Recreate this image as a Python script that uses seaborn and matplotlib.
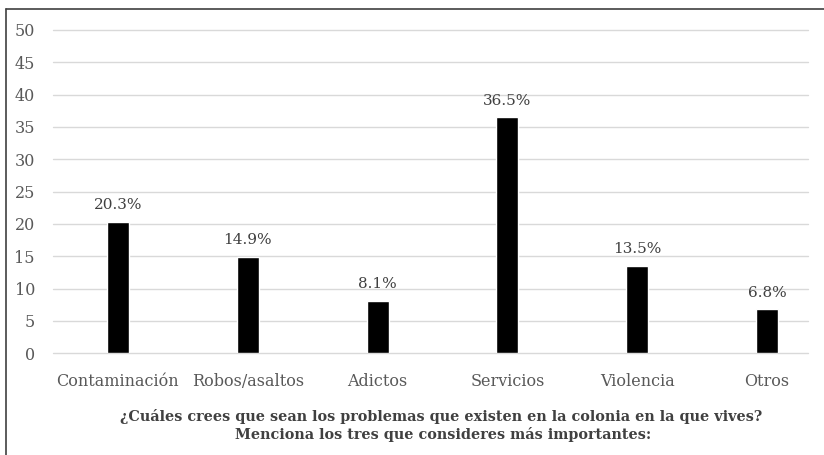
import matplotlib
matplotlib.use("Agg")
import matplotlib.pyplot as plt
from matplotlib.lines import Line2D
import seaborn as sns
import pandas as pd

categories = ["Contaminación", "Robos/asaltos", "Adictos", "Servicios", "Violencia", "Otros"]
values = [20.3, 14.9, 8.1, 36.5, 13.5, 6.8]
yticks = [0, 5, 10, 15, 20, 25, 30, 35, 40, 45, 50]
title_lines = [
    "¿Cuáles crees que sean los problemas que existen en la colonia en la que vives?",
    "Menciona los tres que consideres más importantes:",
]

sns.set_theme(style="white")
plt.rcParams["font.family"] = ["DejaVu Serif"]

W, H = 824, 455
fig = plt.figure(figsize=(W / 100, H / 100), dpi=100)
ax = fig.add_axes([53 / W, 1 - 353.3 / H, (808 - 53) / W, (353.3 - 30) / H])

df = pd.DataFrame({"categoria": categories, "valor": values})
sns.barplot(data=df, x="categoria", y="valor", color="black", saturation=1,
            width=0.17, ax=ax, zorder=3)

ax.set_xlim(-0.5, 5.316)
ax.set_ylim(0, 50)
ax.set_yticks(yticks)
ax.yaxis.grid(True, color="#d9d9d9", linewidth=1.0, zorder=0)
ax.xaxis.grid(False)
for s in ax.spines.values():
    s.set_visible(False)
ax.tick_params(axis="both", length=0, labelsize=11.5, labelcolor="#595959")
ax.tick_params(axis="y", pad=13)
ax.tick_params(axis="x", pad=14)
ax.set_xlabel("")
ax.set_ylabel("")
for gl in ax.get_ygridlines():
    gl.set_clip_on(False)

for i, v in enumerate(values):
    ax.annotate(f"{v:.1f}%", (i, v), xytext=(0, 7), textcoords="offset points",
                ha="center", va="bottom", fontsize=11, color="#404040")

fig.text(441 / W, 1 - 416 / H, title_lines[0], ha="center", va="center",
         fontsize=10.4, fontweight="bold", color="#404040")
fig.text(443 / W, 1 - 434 / H, title_lines[1], ha="center", va="center",
         fontsize=10.4, fontweight="bold", color="#404040")

# frame edges along the top and left
fig.add_artist(Line2D([6 / W, 1], [1 - 9 / H, 1 - 9 / H], transform=fig.transFigure,
                      color="#404040", linewidth=1.2))
fig.add_artist(Line2D([6 / W, 6 / W], [0, 1 - 9 / H], transform=fig.transFigure,
                      color="#404040", linewidth=1.2))

fig.savefig("out.png", dpi=100)
